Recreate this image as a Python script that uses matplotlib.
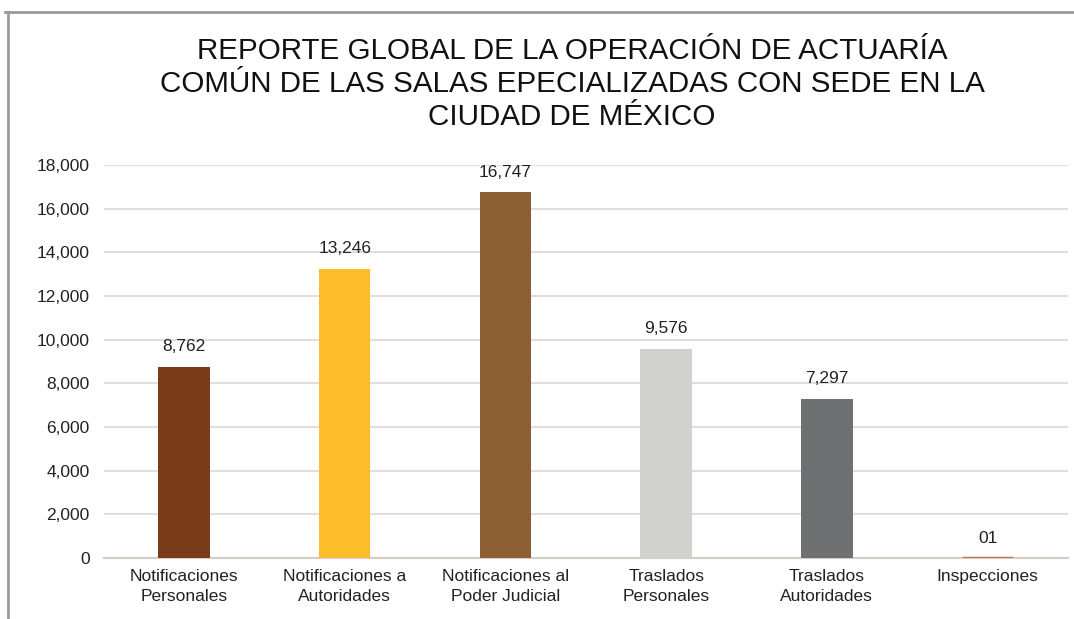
import matplotlib.pyplot as plt
from matplotlib.lines import Line2D
from matplotlib.ticker import FuncFormatter

categories = ['Notificaciones\nPersonales', 'Notificaciones a\nAutoridades',
              'Notificaciones al\nPoder Judicial', 'Traslados\nPersonales',
              'Traslados\nAutoridades', 'Inspecciones']
values = [8762, 13246, 16747, 9576, 7297, 1]
value_labels = ['8,762', '13,246', '16,747', '9,576', '7,297', '01']
colors = ['#7a3c18', '#fdbc2a', '#8c5e34', '#d1d1d0', '#6f7072', '#b8794a']

title = ('REPORTE GLOBAL DE LA OPERACIÓN DE ACTUARÍA\n'
         'COMÚN DE LAS SALAS EPECIALIZADAS CON SEDE EN LA\n'
         'CIUDAD DE MÉXICO')

plt.rcParams['font.family'] = ['Liberation Sans', 'DejaVu Sans']

fig = plt.figure(figsize=(10.74, 6.19), dpi=100)
ax = fig.add_axes([0.0964, 0.0985, 0.8980, 0.6349])

x = range(len(categories))
bars = ax.bar(x, values, width=0.32, color=colors, zorder=3)
# the last bar is only 1, give it an outline so it shows as a thin line
bars[-1].set_edgecolor(colors[-1])
bars[-1].set_linewidth(2.5)

for i in x:
    ax.annotate(value_labels[i], (i, values[i]), xytext=(0, 9),
                textcoords='offset points', ha='center', va='bottom',
                fontsize=12.5, color='#222222')

ax.set_xlim(-0.5, len(categories) - 0.5)
ax.set_ylim(0, 18000)
ax.set_yticks(range(0, 18001, 2000))
ax.yaxis.set_major_formatter(FuncFormatter(lambda v, p: f'{int(v):,}'))
ax.set_xticks(list(x))
ax.set_xticklabels(categories)
for lbl in ax.get_xticklabels():
    lbl.set_linespacing(1.4)
ax.tick_params(axis='both', length=0, labelsize=12.5, colors='#222222')
ax.tick_params(axis='y', pad=10)
ax.tick_params(axis='x', pad=8)

ax.grid(axis='y', color='#e6dcd8', linewidth=1.5, zorder=0)
for s in ['top', 'right', 'left']:
    ax.spines[s].set_visible(False)
ax.spines['bottom'].set_color('#d9ccc4')
ax.spines['bottom'].set_linewidth(1.5)

fig.text(0.5326, 0.864, title, ha='center', va='center', fontsize=21.3,
         linespacing=1.22, color='#111111')

# grey frame of the original slide
fig.add_artist(Line2D([0.005, 1.0], [0.980, 0.980], color='#9a9a9a', linewidth=2))
fig.add_artist(Line2D([0.0075, 0.0075], [0.0, 0.980], color='#9a9a9a', linewidth=2))

plt.savefig('out.png', dpi=100)
